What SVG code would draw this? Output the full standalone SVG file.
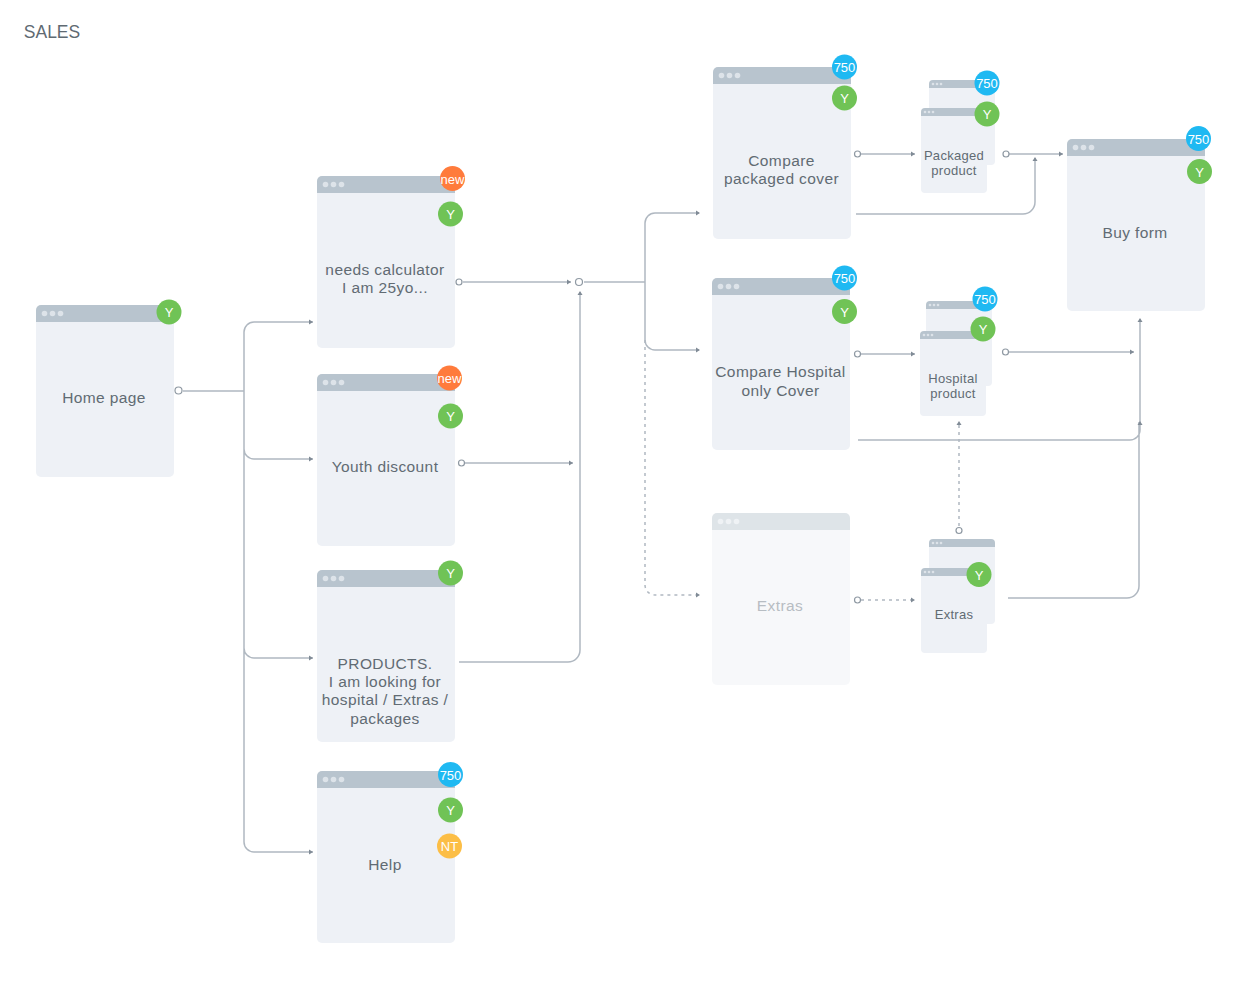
<svg xmlns="http://www.w3.org/2000/svg" width="1256" height="1004" viewBox="0 0 1256 1004">
<style>
text{font-family:"Liberation Sans",Arial,sans-serif;fill:#616b73;text-anchor:middle}
.l{font-size:15.500px;letter-spacing:.4px}
.s{font-size:13px;letter-spacing:.3px}
.body{fill:#eef1f6}
.head{fill:#b8c4ce}
.dot{fill:#dde3e9}
.c{fill:none;stroke:#b0b8c1;stroke-width:1.500}
.d{fill:none;stroke:#b0b8c1;stroke-width:1.500;stroke-dasharray:3 4}
.o{fill:#fff;stroke:#8f99a3;stroke-width:1.200}
.a{fill:#808b96}
.b text{fill:#fff;font-size:13px}
.g{fill:#70c356}.u{fill:#1fb9f2}.r{fill:#ff7b3c}.y{fill:#fcbe46}
</style>
<defs>
<g id="big"><path class="body" d="M0 17H138V167a5 5 0 0 1-5 5H5a5 5 0 0 1-5-5Z"/><path class="head" d="M5 0H133a5 5 0 0 1 5 5V17H0V5a5 5 0 0 1 5-5Z"/><circle class="dot" cx="8.500" cy="8.500" r="2.800"/><circle class="dot" cx="16.500" cy="8.500" r="2.800"/><circle class="dot" cx="24.500" cy="8.500" r="2.800"/></g>
<g id="small"><path class="body" d="M0 8H66V81a4 4 0 0 1-4 4H4a4 4 0 0 1-4-4Z"/><path class="head" d="M4 0H62a4 4 0 0 1 4 4V8H0V4a4 4 0 0 1 4-4Z"/><circle class="dot" cx="4" cy="4" r="1.300"/><circle class="dot" cx="8" cy="4" r="1.300"/><circle class="dot" cx="12" cy="4" r="1.300"/></g>
</defs>
<text x="52" y="38" style="font-size:17.500px;fill:#5f6a72">SALES</text>
<g id="connectors">
<path class="c" d="M183 391H244M313 322H254a10 10 0 0 0-10 10V842a10 10 0 0 0 10 10H313M244 449a10 10 0 0 0 10 10H313M244 648a10 10 0 0 0 10 10H313"/>
<path class="c" d="M463 282H571M584 282H645M699 213H655a10 10 0 0 0-10 10V340a10 10 0 0 0 10 10H699M463 463H573M459 662H568a12 12 0 0 0 12-12V292"/>
<path class="d" d="M645 340V585a10 10 0 0 0 10 10H699"/>
<path class="c" d="M861 154H915M1008 154H1063M856 214H1023a12 12 0 0 0 12-12V158M861 354H915M1009 352H1134M858 440H1130a10 10 0 0 0 10-10V319M1008 598H1127a12 12 0 0 0 12-12V422"/>
<path class="d" d="M861 600H915M959 526V421"/>
<g class="a"><path d="M313 322l-4-2.500v5ZM313 459l-4-2.500v5ZM313 658l-4-2.500v5ZM313 852l-4-2.500v5ZM571 282l-4-2.500v5ZM573 463l-4-2.500v5ZM700 213l-4-2.500v5ZM700 350l-4-2.500v5ZM700 595l-4-2.500v5ZM915 154l-4-2.500v5ZM1063 154l-4-2.500v5ZM915 354l-4-2.500v5ZM1134 352l-4-2.500v5ZM915 600l-4-2.500v5ZM580 291l-2.500 4h5ZM1035 157l-2.500 4h5ZM1140 318l-2.500 4h5ZM1140 421l-2.500 4h5ZM959 421l-2.500 4h5Z"/></g>
<circle class="o" cx="178.500" cy="390.500" r="3.500"/><circle class="o" cx="459" cy="282" r="3"/><circle class="o" cx="579" cy="282" r="3.500"/><circle class="o" cx="461.500" cy="463" r="3"/><circle class="o" cx="857.500" cy="154" r="3"/><circle class="o" cx="1006" cy="154" r="3"/><circle class="o" cx="857.500" cy="354" r="3"/><circle class="o" cx="1005.500" cy="352" r="3"/><circle class="o" cx="857.500" cy="600" r="3"/><circle class="o" cx="959" cy="530.500" r="3"/>
</g>
<g id="home"><use href="#big" x="36" y="305"/><text class="l" x="104" y="403">Home page</text><g class="b"><circle class="g" cx="169" cy="312" r="12.500"/><text x="169" y="317">Y</text></g></g>
<g id="needs"><use href="#big" x="317" y="176"/><text class="l" x="385" y="275">needs calculator</text><text class="l" x="385" y="293">I am 25yo...</text><g class="b"><circle class="r" cx="452.500" cy="178.500" r="12.500"/><text x="452.500" y="183.500">new</text><circle class="g" cx="450.500" cy="214" r="12.500"/><text x="450.500" y="219">Y</text></g></g>
<g id="youth"><use href="#big" x="317" y="374"/><text class="l" x="385" y="472">Youth discount</text><g class="b"><circle class="r" cx="449.500" cy="378" r="12.500"/><text x="449.500" y="383">new</text><circle class="g" cx="450.500" cy="416" r="12.500"/><text x="450.500" y="421">Y</text></g></g>
<g id="products"><use href="#big" x="317" y="570"/><text class="l" x="385" y="669">PRODUCTS.</text><text class="l" x="385" y="687">I am looking for</text><text class="l" x="385" y="705">hospital / Extras /</text><text class="l" x="385" y="724">packages</text><g class="b"><circle class="g" cx="450.500" cy="573" r="12.500"/><text x="450.500" y="578">Y</text></g></g>
<g id="help"><use href="#big" x="317" y="771"/><text class="l" x="385" y="870">Help</text><g class="b"><circle class="u" cx="450.500" cy="774.500" r="12.500"/><text x="450.500" y="779.500">750</text><circle class="g" cx="450.500" cy="810" r="12.500"/><text x="450.500" y="815">Y</text><circle class="y" cx="449.500" cy="846" r="12.500"/><text x="449.500" y="851">NT</text></g></g>
<g id="compare-packaged"><use href="#big" x="713" y="67"/><text class="l" x="781.500" y="166">Compare</text><text class="l" x="781.500" y="184">packaged cover</text><g class="b"><circle class="u" cx="844.500" cy="67" r="12.500"/><text x="844.500" y="72">750</text><circle class="g" cx="844.500" cy="98" r="12.500"/><text x="844.500" y="103">Y</text></g></g>
<g id="compare-hospital"><use href="#big" x="712" y="278"/><text class="l" x="780.500" y="377">Compare Hospital</text><text class="l" x="780.500" y="396">only Cover</text><g class="b"><circle class="u" cx="844.500" cy="278" r="12.500"/><text x="844.500" y="283">750</text><circle class="g" cx="844.500" cy="311.500" r="12.500"/><text x="844.500" y="316.500">Y</text></g></g>
<g id="extras-page"><g opacity=".45"><use href="#big" x="712" y="513"/></g><text class="l" x="780" y="611" style="fill:#b7bdc3">Extras</text></g>
<g id="buy"><use href="#big" x="1067" y="139"/><text class="l" x="1135" y="238">Buy form</text><g class="b"><circle class="u" cx="1198.500" cy="138.500" r="12.500"/><text x="1198.500" y="143.500">750</text><circle class="g" cx="1199.500" cy="171.500" r="12.500"/><text x="1199.500" y="176.500">Y</text></g></g>
<g id="packaged"><use href="#small" x="929" y="80"/><use href="#small" x="921" y="108"/><text class="s" x="954" y="160">Packaged</text><text class="s" x="954" y="175">product</text><g class="b"><circle class="u" cx="987" cy="83" r="12.500"/><text x="987" y="88">750</text><circle class="g" cx="987" cy="114" r="12.500"/><text x="987" y="119">Y</text></g></g>
<g id="hospital"><use href="#small" x="926" y="301"/><use href="#small" x="920" y="331"/><text class="s" x="953" y="383">Hospital</text><text class="s" x="953" y="398">product</text><g class="b"><circle class="u" cx="985" cy="299" r="12.500"/><text x="985" y="304">750</text><circle class="g" cx="983" cy="329" r="12.500"/><text x="983" y="334">Y</text></g></g>
<g id="extras"><use href="#small" x="929" y="539"/><use href="#small" x="921" y="568"/><text class="s" x="954" y="619">Extras</text><g class="b"><circle class="g" cx="979" cy="574.500" r="12.500"/><text x="979" y="579.500">Y</text></g></g>
</svg>
